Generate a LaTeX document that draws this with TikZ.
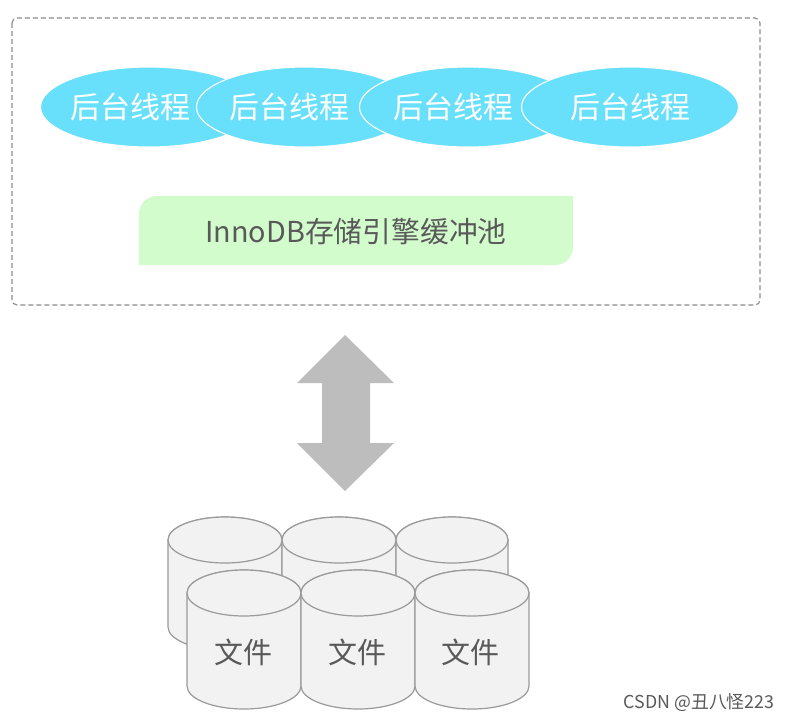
\documentclass[tikz,border=0pt]{standalone}
\usepackage{fontspec}
\usetikzlibrary{shapes.geometric}
\newfontfamily\cjk{Noto Sans CJK SC}
\definecolor{threadblue}{HTML}{69E0FB}
\definecolor{poolgreen}{HTML}{D3FCCD}
\definecolor{framegray}{HTML}{8C8C8C}
\definecolor{arrowgray}{HTML}{BDBDBD}
\definecolor{diskfill}{HTML}{F2F2F2}
\definecolor{diskline}{HTML}{9A9A9A}
\definecolor{inktext}{HTML}{595959}
\tikzset{
  thread/.style={ellipse,draw=white,line width=1.1pt,fill=threadblue,minimum width=217pt,minimum height=80pt,inner sep=0pt},
  threadlabel/.style={text=white,inner sep=0pt,font=\cjk\fontsize{30}{30}\selectfont},
  frame/.style={draw=framegray,line width=1.1pt,dash pattern=on 5pt off 3pt,rounded corners=5pt},
  disk/.style={draw=diskline,line width=1.2pt,fill=diskfill},
  disklabel/.style={text=inktext,inner sep=0pt,font=\cjk\fontsize{29}{29}\selectfont},
}
% #1 left x, #2 right x, #3 top-ellipse centre y, #4 bottom-ellipse centre y
\newcommand{\diskshape}[4]{%
  \draw[disk] (#1,#3) -- (#1,#4) arc[start angle=180,end angle=360,x radius={(#2-#1)/2*1pt},y radius=23pt] -- (#2,#3)
     arc[start angle=0,end angle=180,x radius={(#2-#1)/2*1pt},y radius=23pt] -- cycle;
  \draw[disk] ({(#1+#2)/2},#3) ellipse[x radius={(#2-#1)/2*1pt},y radius=23pt];
}
\begin{document}
\begin{tikzpicture}[x=1pt,y=-1pt]
\useasboundingbox (0,0) rectangle (790,721);
\fill[white] (0,0) rectangle (790,721);
\draw[frame] (12,18) rectangle (760,305);
\node[thread] (t1) at (149,107) {};
\node[thread] (t2) at (305,107) {};
\node[thread] (t3) at (468,107) {};
\node[thread] (t4) at (630,107) {};
\node[threadlabel] (l1) at (130,107) {后台线程};
\node[threadlabel] (l2) at (289,107) {后台线程};
\node[threadlabel] (l3) at (453,107) {后台线程};
\node[threadlabel] (l4) at (630,107) {后台线程};
\fill[poolgreen] (139,265) -- (139,214) arc[start angle=180,end angle=90,radius=18pt] -- (573,196) -- (573,247)
  arc[start angle=0,end angle=-90,radius=18pt] -- cycle;
\node[text=inktext,inner sep=0pt,font=\cjk\fontsize{28.8}{28.8}\selectfont] (pool) at (356,232) {InnoDB存储引擎缓冲池};
\fill[arrowgray] (345,335) -- (394,383) -- (370,383) -- (370,443) -- (394,443) -- (345,491) -- (297,443) -- (322,443) -- (322,383) -- (297,383) -- cycle;
\diskshape{168}{282}{540}{627}
\diskshape{282}{396}{540}{627}
\diskshape{396}{508}{540}{627}
\diskshape{187}{301}{593}{686}
\diskshape{301}{415}{593}{686}
\diskshape{415}{529}{593}{686}
\node[disklabel] (f1) at (243,652) {文件};
\node[disklabel] (f2) at (357,652) {文件};
\node[disklabel] (f3) at (470,652) {文件};
\node[text=inktext,inner sep=0pt,font=\cjk\fontsize{17.8}{17.8}\selectfont] (wm) at (699,703) {CSDN @丑八怪223};
\end{tikzpicture}
\end{document}
